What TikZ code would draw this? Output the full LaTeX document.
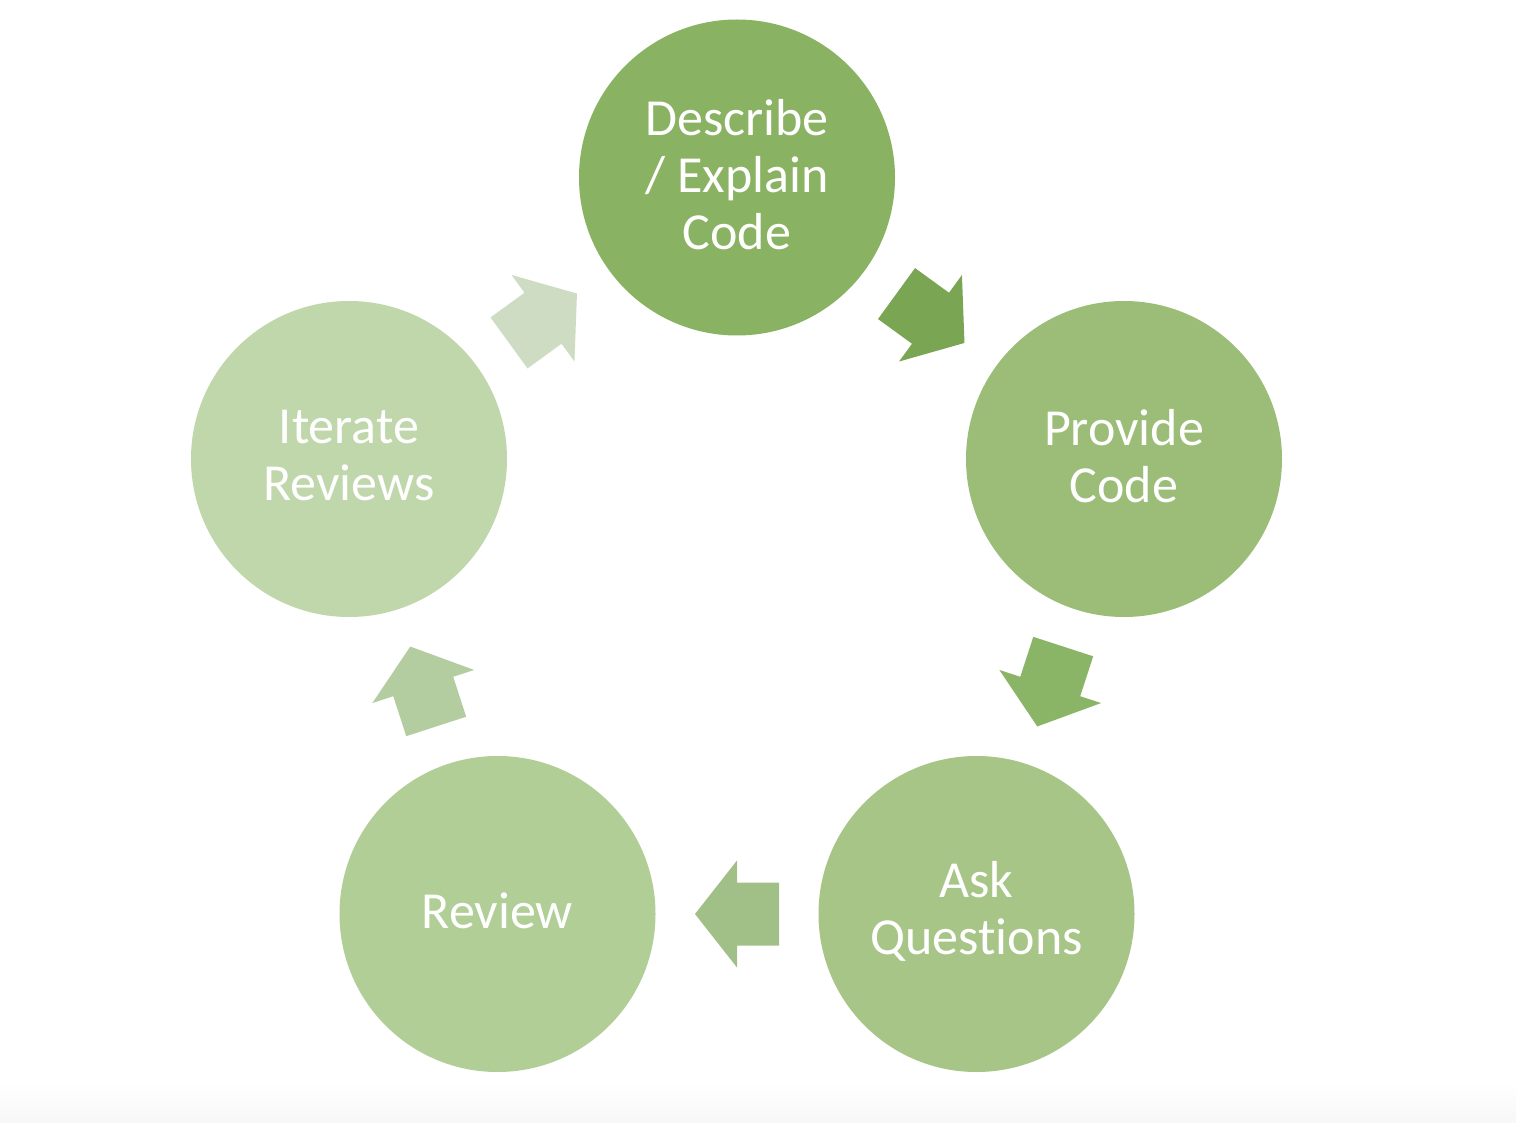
\documentclass[tikz,border=0pt]{standalone}
\usepackage{fontspec}
\setmainfont[Ligatures={NoCommon}]{Carlito}
\usetikzlibrary{calc}
\definecolor{cD}{HTML}{8AB263}
\definecolor{cP}{HTML}{9BBD78}
\definecolor{cA}{HTML}{A7C587}
\definecolor{cR}{HTML}{B1CE96}
\definecolor{cI}{HTML}{BFD7AA}
\definecolor{a1}{HTML}{7AA552}
\definecolor{a2}{HTML}{8AB466}
\definecolor{a3}{HTML}{A0C088}
\definecolor{a4}{HTML}{B3CDA1}
\definecolor{a5}{HTML}{CEDCC4}
\tikzset{
  stage/.style={circle, minimum size=316pt, inner sep=0pt},
  stagetext/.style={text=white, align=center, inner sep=0pt,
    font=\fontsize{52}{57}\selectfont},
  blockarrow/.pic={\fill (-42,-31.5) -- (0,-31.5) -- (0,-53.5) -- (42,0) -- (0,53.5) -- (0,31.5) -- (-42,31.5) -- cycle;}
}
\begin{document}
\begin{tikzpicture}[x=1pt,y=-1pt]
\useasboundingbox (0,0) rectangle (1516,1123);
\fill[white] (0,0) rectangle (1516,1123);
\shade[top color=white, bottom color=black!3] (0,1082) rectangle (1516,1123);
\node[stage, fill=cD] (d) at (737,177.5) {};
\node[stage, fill=cP] (p) at (1124,459) {};
\node[stage, fill=cA] (a) at (976.5,914) {};
\node[stage, fill=cR] (r) at (497.5,914) {};
\node[stage, fill=cI] (i) at (349,459) {};
\node[stagetext] (dt) at ($(d)+(0,-3)$) {Describe\\/ Explain\\Code};
\node[stagetext] (pt) at ($(p)+(0,-3)$) {Provide\\Code};
\node[stagetext] (at) at ($(a)+(0,-3)$) {Ask\\Quest\kern0pt ions};
\node[stagetext] (rt) at ($(r)+(0,-3)$) {Review};
\node[stagetext] (it) at ($(i)+(0,-3)$) {Iterate\\Reviews};
\path[fill=a1] ($(d)!0.5!(p)$) pic[rotate=-36] {blockarrow};
\path[fill=a2] ($(p)!0.5!(a)$) pic[rotate=-108] {blockarrow};
\path[fill=a3] ($(a)!0.5!(r)$) pic[rotate=180] {blockarrow};
\path[fill=a4] ($(r)!0.5!(i)$) pic[rotate=108] {blockarrow};
\path[fill=a5] ($(i)!0.5!(d)$) pic[rotate=36] {blockarrow};
\end{tikzpicture}
\end{document}
